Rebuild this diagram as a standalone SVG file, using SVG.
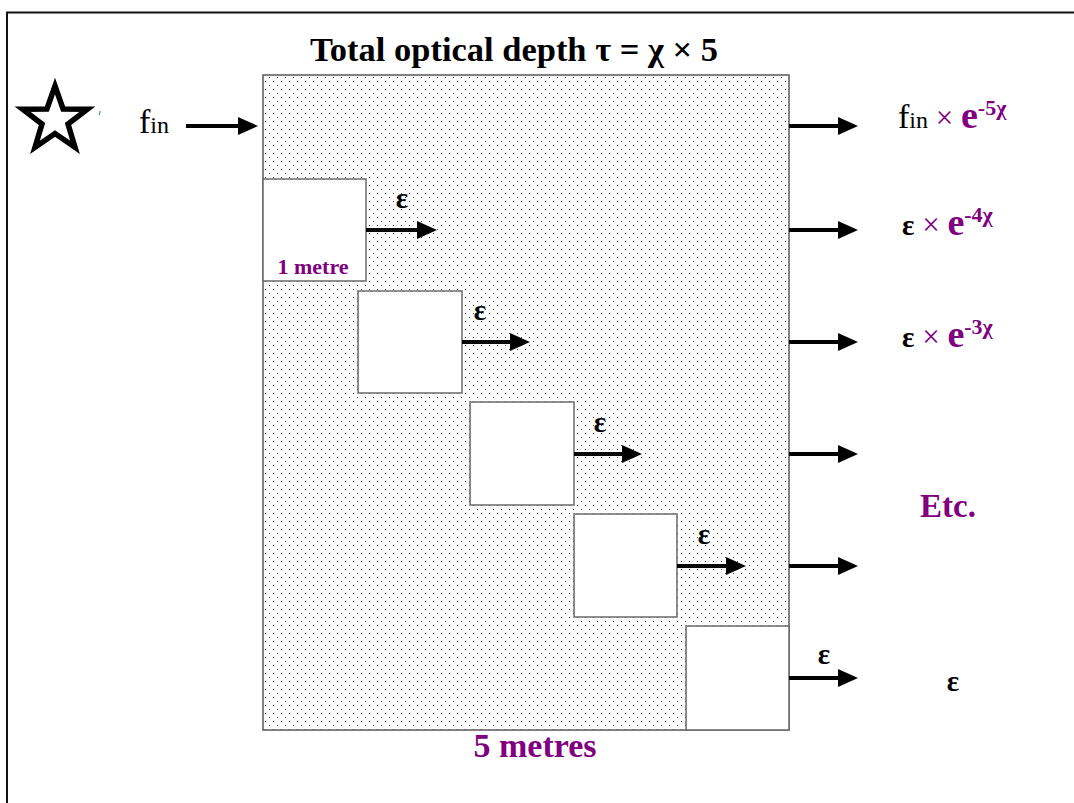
<svg xmlns="http://www.w3.org/2000/svg" width="1074" height="803" viewBox="0 0 1074 803">
  <style>
    .serif { font-family: "Liberation Serif", "Times New Roman", serif; }
    .purple { fill: #800080; }
    .ink { fill: #000; }
    .bold { font-weight: bold; }
    .eps { font-family: "Liberation Serif", "Times New Roman", serif; font-weight: bold; font-size: 29px; fill: #000; text-anchor: middle; }
    .cell { fill: #fff; stroke: #6a6a6a; stroke-width: 1.5; }
    .arrow { stroke: #000; stroke-width: 4; fill: none; marker-end: url(#head); }
  </style>
  <defs>
    <pattern id="dots" width="8" height="8" patternUnits="userSpaceOnUse">
      <rect x="1" y="1" width="1" height="1" fill="#4a4a4a"/>
      <rect x="5" y="5" width="1" height="1" fill="#4a4a4a"/>
    </pattern>
    <marker id="head" markerWidth="20" markerHeight="18" refX="0" refY="9" orient="auto" markerUnits="userSpaceOnUse">
      <path d="M0,0 L20,9 L0,18 z" fill="#000"/>
    </marker>
  </defs>

  <rect width="1074" height="803" fill="#fff"/>
  <!-- outer frame -->
  <path d="M7,803 V12.5 H1074" fill="none" stroke="#111" stroke-width="2"/>

  <!-- star source -->
  <g id="star">
    <polygon points="55,86 63.1,108.9 87.4,109.2 68,124 75,147.3 55,133.5 35,147.3 42,124 22.6,109.2 46.9,108.9" fill="#fff" stroke="#000" stroke-width="5.5" stroke-linejoin="miter"/>
    <path d="M100,111 l-0.6,4" stroke="#3a6aa8" stroke-width="1"/>
  </g>

  <!-- slab -->
  <g id="slab">
    <rect x="263" y="75" width="526" height="655" fill="#fff"/>
    <rect x="263" y="75" width="526" height="655" fill="url(#dots)" stroke="#5a5a5a" stroke-width="1.5"/>
    <text x="514" y="61" text-anchor="middle" class="serif bold ink" font-size="34" textLength="408" lengthAdjust="spacingAndGlyphs">Total optical depth τ = χ × 5</text>
    <text x="535" y="757" text-anchor="middle" class="serif bold purple" font-size="34">5 metres</text>
  </g>

  <g id="cell1">
    <rect class="cell" x="263" y="179" width="103" height="102"/>
    <text x="313" y="274" text-anchor="middle" class="serif bold purple" font-size="22">1 metre</text>
    <text x="402" y="208" class="eps">ε</text>
  </g>
  <g id="cell2">
    <rect class="cell" x="358" y="291" width="104" height="102"/>
    <text x="480" y="320" class="eps">ε</text>
  </g>
  <g id="cell3">
    <rect class="cell" x="470" y="402" width="104" height="103"/>
    <text x="600" y="432" class="eps">ε</text>
  </g>
  <g id="cell4">
    <rect class="cell" x="574" y="514" width="103" height="103"/>
    <text x="704" y="544" class="eps">ε</text>
  </g>
  <g id="cell5">
    <rect class="cell" x="686" y="626" width="103" height="104"/>
    <text x="824" y="664" class="eps">ε</text>
  </g>

  <!-- input label -->
  <g id="input">
    <text x="139" y="133" class="serif ink" font-size="34">f<tspan font-size="24">in</tspan></text>
  </g>

  <!-- output labels -->
  <g id="out1">
    <text x="898" y="128" class="serif" font-size="34"><tspan class="ink">f</tspan><tspan class="ink" font-size="24">in</tspan><tspan class="purple" font-size="31"> × </tspan><tspan class="purple bold" font-size="38">e</tspan><tspan class="purple bold" font-size="22" dy="-13">-5χ</tspan></text>
  </g>
  <g id="out2">
    <text x="902" y="235" class="serif" font-size="31"><tspan class="ink bold" font-size="29">ε</tspan><tspan class="purple" font-size="31"> × </tspan><tspan class="purple bold" font-size="38">e</tspan><tspan class="purple bold" font-size="22" dy="-13">-4χ</tspan></text>
  </g>
  <g id="out3">
    <text x="902" y="347" class="serif" font-size="31"><tspan class="ink bold" font-size="29">ε</tspan><tspan class="purple" font-size="31"> × </tspan><tspan class="purple bold" font-size="38">e</tspan><tspan class="purple bold" font-size="22" dy="-13">-3χ</tspan></text>
  </g>
  <g id="etc">
    <text x="948" y="517" text-anchor="middle" class="serif bold purple" font-size="33">Etc.</text>
  </g>
  <g id="out5">
    <text x="953" y="691" class="eps">ε</text>
  </g>

  <!-- connectors -->
  <g id="connectors">
    <path class="arrow" d="M186,126 H238"/>
    <path class="arrow" d="M366,230 H417"/>
    <path class="arrow" d="M462,342 H510"/>
    <path class="arrow" d="M574,454 H622"/>
    <path class="arrow" d="M677,566 H726"/>
    <path class="arrow" d="M789,678 H838"/>
    <path class="arrow" d="M789,126 H838"/>
    <path class="arrow" d="M789,230 H838"/>
    <path class="arrow" d="M789,342 H838"/>
    <path class="arrow" d="M789,454 H838"/>
    <path class="arrow" d="M789,566 H838"/>
  </g>
</svg>
